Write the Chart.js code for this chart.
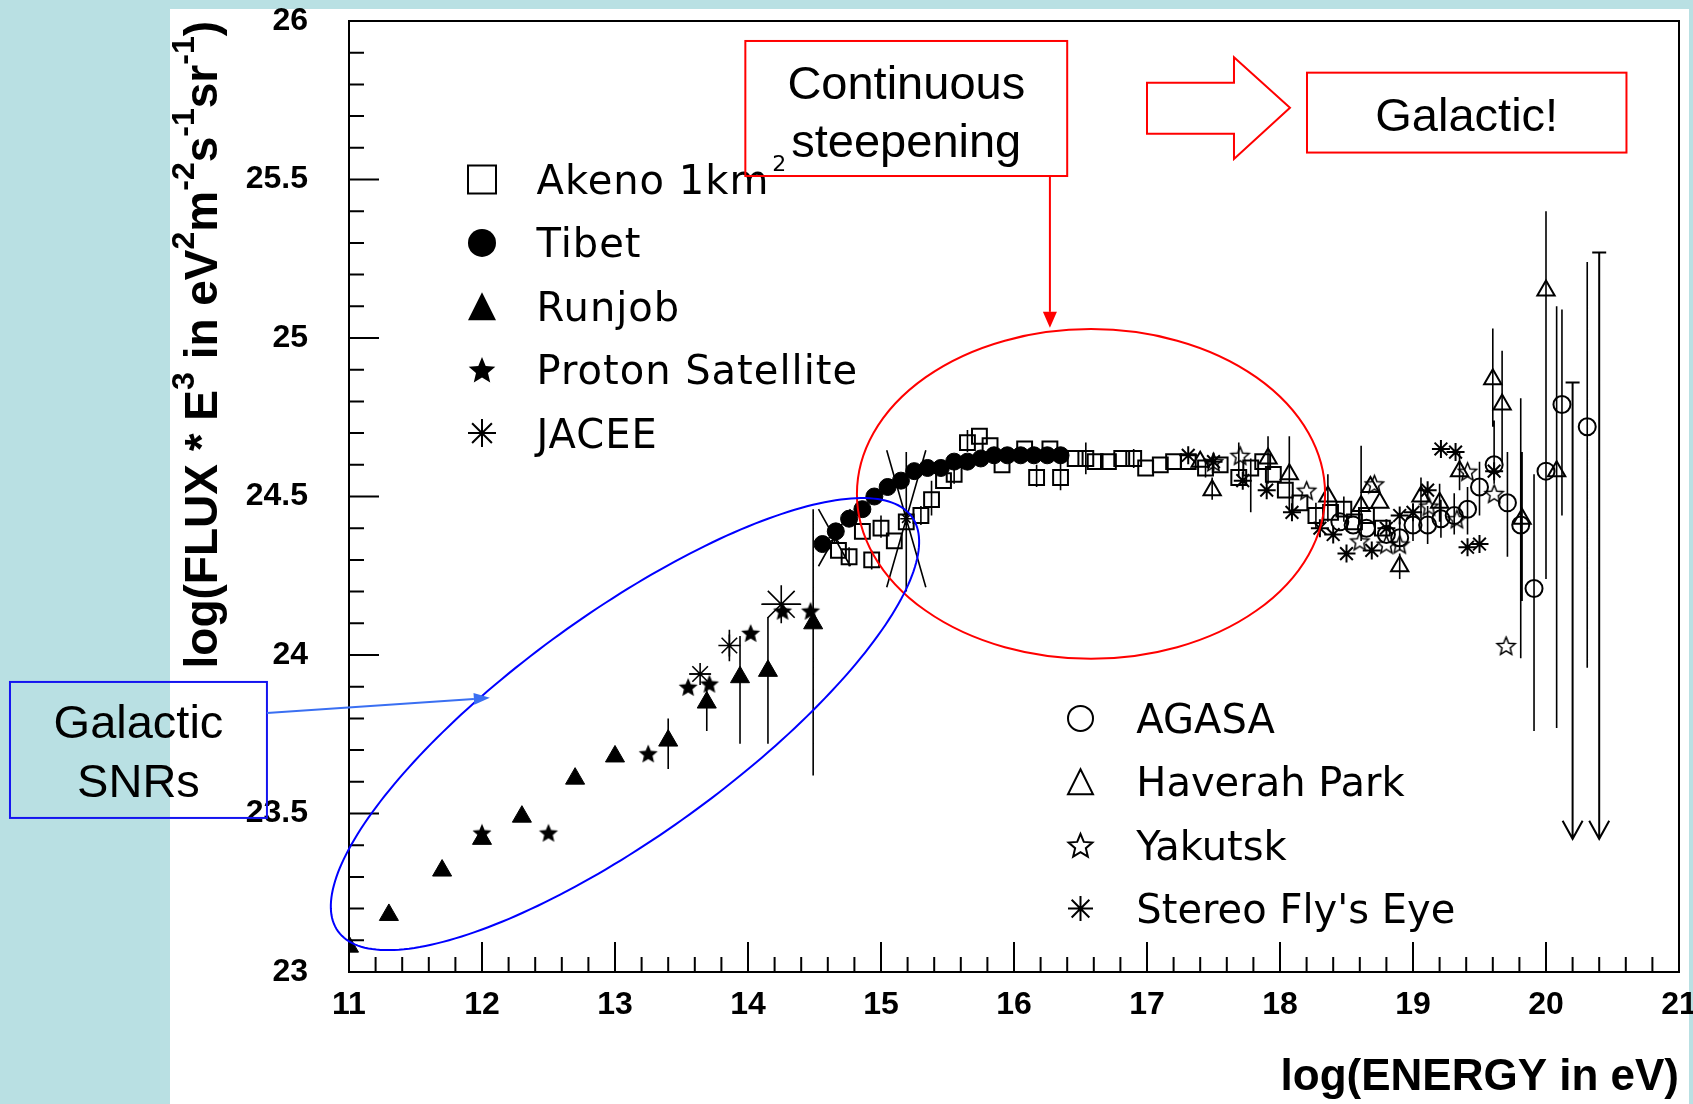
<!DOCTYPE html>
<html>
<head>
<meta charset="utf-8">
<title>Cosmic ray spectrum E^3 weighted</title>
<script src="https://cdn.jsdelivr.net/npm/chart.js@4.4.1/dist/chart.umd.min.js"></script>
<style>
    html, body { margin: 0; padding: 0; background: #b9e0e3; overflow: hidden; }
    #panel { position: absolute; left: 170px; top: 9px; width: 1519px; height: 1095px; background: #ffffff; }
    #wrap { position: absolute; left: 0; top: 0; width: 1693px; height: 1104px; }
</style>
</head>
<body>
<div id="panel"></div>
<div id="wrap"><canvas id="spectrum" width="1693" height="1104"></canvas></div>
<script>
/**
 * Axis ticks
 */
const xTickValues = [11, 12, 13, 14, 15, 16, 17, 18, 19, 20, 21];
const yTickValues = [23, 23.5, 24, 24.5, 25, 25.5, 26];
const xTitle = 'log(ENERGY in eV)';
const yTitleParts = [['log(FLUX * E', 0], ['3', 1], [' in eV', 0], ['2', 1], ['m', 0], ['-2', 1], ['s', 0], ['-1', 1], ['sr', 0], ['-1', 1], [')', 0]];

/**
 * Series values (x = log E, y = log flux*E^3), error bars as [x, low, high]
 */
const runjobX = [11.0, 11.3, 11.7, 12.0, 12.3, 12.7, 13.0, 13.4, 13.69, 13.94, 14.15, 14.49];
const runjobY = [23.08, 23.18, 23.32, 23.42, 23.49, 23.61, 23.68, 23.73, 23.85, 23.93, 23.95, 24.10];
const runjobBars = [[13.40, 23.64, 23.80], [13.69, 23.76, 23.89], [13.94, 23.72, 24.06], [14.15, 23.72, 24.12], [14.49, 23.62, 24.46]];

const protonX = [12.0, 12.5, 13.25, 13.55, 13.71, 14.02, 14.26, 14.47];
const protonY = [23.44, 23.44, 23.69, 23.90, 23.91, 24.07, 24.14, 24.14];

const jaceeX = [13.64, 13.86, 14.25, 14.65, 15.19];
const jaceeY = [23.94, 24.03, 24.16, 24.37, 24.43];
const jaceeSize = [11, 11, 19, 6, 6];
const jaceeBars = [[13.86, 23.98, 24.08], [15.19, 24.20, 24.64]];
const jaceeHBars = [[24.16, 14.10, 14.40], [23.94, 13.56, 13.72]];
const jaceeCross = [[14.65, 24.37, 0.12, 0.09], [15.19, 24.43, 0.147, 0.216]];

const tibetX = [14.56, 14.66, 14.76, 14.86, 14.95, 15.05, 15.15, 15.25, 15.35, 15.45, 15.55, 15.65, 15.75, 15.85, 15.95, 16.05, 16.15, 16.25, 16.35];
const tibetY = [24.35, 24.39, 24.43, 24.46, 24.50, 24.53, 24.55, 24.58, 24.59, 24.59, 24.61, 24.61, 24.62, 24.63, 24.63, 24.63, 24.63, 24.63, 24.63];

const akenoX = [14.68, 14.76, 14.86, 14.93, 15.00, 15.10, 15.19, 15.30, 15.38, 15.47, 15.55, 15.65, 15.74, 15.82, 15.91, 16.08, 16.17, 16.27, 16.35, 16.46, 16.54, 16.61, 16.71, 16.81, 16.90, 16.99, 17.10, 17.20, 17.31, 17.44, 17.55, 17.69, 17.78, 17.87, 17.95, 18.04, 18.15, 18.27, 18.38, 18.48, 18.56, 18.65, 18.77];
const akenoY = [24.33, 24.31, 24.39, 24.30, 24.40, 24.36, 24.42, 24.44, 24.49, 24.55, 24.57, 24.67, 24.69, 24.66, 24.60, 24.65, 24.56, 24.65, 24.56, 24.62, 24.62, 24.61, 24.61, 24.62, 24.62, 24.59, 24.60, 24.61, 24.61, 24.59, 24.60, 24.56, 24.59, 24.61, 24.57, 24.52, 24.48, 24.44, 24.45, 24.46, 24.42, 24.44, 24.40];
const akenoBars = [[14.76, 24.28, 24.34], [14.93, 24.27, 24.33], [15.00, 24.37, 24.44], [15.30, 24.41, 24.47], [15.38, 24.44, 24.55], [15.55, 24.54, 24.60], [15.65, 24.64, 24.71], [16.17, 24.53, 24.60], [16.35, 24.52, 24.62], [16.54, 24.57, 24.67], [16.90, 24.59, 24.65], [17.44, 24.56, 24.62], [17.69, 24.56, 24.67], [17.78, 24.45, 24.62], [18.27, 24.40, 24.48], [18.48, 24.42, 24.50]];

const agasaX = [18.45, 18.55, 18.65, 18.80, 18.90, 19.00, 19.11, 19.21, 19.31, 19.41, 19.50, 19.61, 19.71, 19.81, 19.91, 20.00, 20.12, 20.31];
const agasaY = [24.42, 24.41, 24.40, 24.38, 24.37, 24.41, 24.41, 24.43, 24.44, 24.46, 24.53, 24.60, 24.48, 24.41, 24.21, 24.58, 24.79, 24.72];
const agasaBars = [[18.90, 24.33, 24.42], [19.00, 24.36, 24.47], [19.11, 24.35, 24.47], [19.21, 24.37, 24.49], [19.31, 24.38, 24.51], [19.41, 24.38, 24.53], [19.50, 24.44, 24.61], [19.61, 24.54, 24.74], [19.71, 24.31, 24.64], [19.81, 23.99, 24.81], [19.91, 23.76, 24.57], [20.12, 24.44, 25.09], [20.31, 23.96, 25.24]];
const limitX = [20.20, 20.40];
const limitTop = [24.86, 25.27];
const limitTip = [23.42, 23.42];

const haverahX = [17.40, 17.49, 17.91, 18.07, 18.36, 18.61, 18.68, 18.75, 18.90, 19.06, 19.20, 19.35, 19.60, 19.67, 19.82, 20.00, 20.08];
const haverahY = [24.61, 24.52, 24.62, 24.57, 24.50, 24.47, 24.53, 24.48, 24.28, 24.50, 24.48, 24.58, 24.87, 24.79, 24.43, 25.15, 24.58];
const haverahBars = [[17.49, 24.49, 24.56], [17.91, 24.54, 24.69], [18.07, 24.45, 24.69], [18.36, 24.42, 24.57], [18.61, 24.36, 24.66], [18.90, 24.24, 24.32], [19.06, 24.43, 24.56], [19.20, 24.42, 24.54], [19.35, 24.52, 24.64], [19.60, 24.72, 25.03], [19.67, 24.61, 24.96], [19.82, 24.17, 24.64], [20.00, 24.24, 25.40], [20.08, 23.77, 25.10]];

const yakutskX = [17.50, 17.70, 18.20, 18.60, 18.71, 18.80, 18.90, 19.12, 19.33, 19.41, 19.61, 19.70];
const yakutskY = [24.61, 24.63, 24.52, 24.36, 24.54, 24.35, 24.35, 24.47, 24.43, 24.58, 24.51, 24.03];

const flyX = [17.31, 17.50, 17.72, 17.90, 18.09, 18.30, 18.40, 18.50, 18.69, 18.80, 18.90, 19.00, 19.11, 19.21, 19.32, 19.41, 19.50, 19.61];
const flyY = [24.63, 24.61, 24.55, 24.52, 24.45, 24.40, 24.38, 24.32, 24.33, 24.40, 24.44, 24.45, 24.52, 24.65, 24.64, 24.34, 24.35, 24.58];

/**
 * Legends: [label, marker, superscript]
 */
const legendUpper = [['Akeno 1km', 'openSquare', '2'], ['Tibet', 'dot'], ['Runjob', 'triangle'], ['Proton Satellite', 'star'], ['JACEE', 'asterisk']];
const legendUpperRows = [25.5, 25.3, 25.1, 24.9, 24.7];
const legendLower = [['AGASA', 'openCircle'], ['Haverah Park', 'openTriangle'], ["Yakutsk", 'openStar'], ["Stereo Fly's Eye", 'asterisk']];
const legendLowerRows = [23.8, 23.6, 23.4, 23.2];

const FONT = '"Liberation Sans", Arial, Helvetica, sans-serif';
const LEGEND_FONT = '"DejaVu Sans", "Liberation Sans", sans-serif';

function pts(xs, ys) {
    return xs.map((x, i) => ({ x: x, y: ys[i] }));
}

function starPath(g, cx, cy, R, inner) {
    g.beginPath();
    for (let k = 0; k < 10; k++) {
        const r = k % 2 ? R * inner : R;
        const a = -Math.PI / 2 + k * Math.PI / 5;
        const px = cx + r * Math.cos(a);
        const py = cy + r * Math.sin(a);
        if (k === 0) g.moveTo(px, py); else g.lineTo(px, py);
    }
    g.closePath();
}

function starImage(size, filled) {
    const c = document.createElement('canvas');
    c.width = c.height = size + 4;
    const g = c.getContext('2d');
    starPath(g, c.width / 2, c.height / 2 + size * 0.06, size / 2, 0.45);
    if (filled) {
        g.fillStyle = '#000';
        g.fill();
    } else {
        g.strokeStyle = '#000';
        g.lineWidth = 1.5;
        g.stroke();
    }
    return c;
}

function legendMarker(ctx, kind, cx, cy, s) {
    const r = s / 2;
    ctx.save();
    ctx.fillStyle = '#000';
    ctx.strokeStyle = '#000';
    ctx.lineWidth = 2;
    ctx.beginPath();
    if (kind === 'openSquare') {
        ctx.rect(cx - r, cy - r, s, s);
        ctx.stroke();
    } else if (kind === 'dot' || kind === 'openCircle') {
        ctx.arc(cx, cy, r, 0, Math.PI * 2);
        if (kind === 'dot') ctx.fill(); else ctx.stroke();
    } else if (kind === 'triangle' || kind === 'openTriangle') {
        ctx.moveTo(cx, cy - r);
        ctx.lineTo(cx + r, cy + r);
        ctx.lineTo(cx - r, cy + r);
        ctx.closePath();
        if (kind === 'triangle') ctx.fill(); else ctx.stroke();
    } else if (kind === 'star' || kind === 'openStar') {
        starPath(ctx, cx, cy + r * 0.1, r, 0.45);
        if (kind === 'star') ctx.fill(); else ctx.stroke();
    } else if (kind === 'asterisk') {
        const d = r * Math.SQRT1_2;
        ctx.moveTo(cx - r, cy); ctx.lineTo(cx + r, cy);
        ctx.moveTo(cx, cy - r); ctx.lineTo(cx, cy + r);
        ctx.moveTo(cx - d, cy - d); ctx.lineTo(cx + d, cy + d);
        ctx.moveTo(cx - d, cy + d); ctx.lineTo(cx + d, cy - d);
        ctx.stroke();
    }
    ctx.restore();
}

function arrow(ctx, x0, y0, x1, y1, color, len, half) {
    const ang = Math.atan2(y1 - y0, x1 - x0);
    const bx = x1 - Math.cos(ang) * len;
    const by = y1 - Math.sin(ang) * len;
    ctx.strokeStyle = color;
    ctx.fillStyle = color;
    ctx.beginPath();
    ctx.moveTo(x0, y0);
    ctx.lineTo(bx, by);
    ctx.stroke();
    ctx.beginPath();
    ctx.moveTo(x1, y1);
    ctx.lineTo(bx + Math.sin(ang) * half, by - Math.cos(ang) * half);
    ctx.lineTo(bx - Math.sin(ang) * half, by + Math.cos(ang) * half);
    ctx.closePath();
    ctx.fill();
}

/**
 * Error bars, upper limits (drawn under the markers)
 */
const errorBars = {
    id: 'errorBars',
    beforeDatasetsDraw(chart) {
        const { ctx, scales: { x, y } } = chart;
        ctx.save();
        ctx.strokeStyle = '#000';
        ctx.lineWidth = 1.6;
        ctx.beginPath();
        chart.data.datasets.forEach(ds => {
            (ds.errBars || []).forEach(b => {
                const px = x.getPixelForValue(b[0]);
                ctx.moveTo(px, y.getPixelForValue(b[1]));
                ctx.lineTo(px, y.getPixelForValue(b[2]));
            });
            (ds.errHBars || []).forEach(b => {
                const py = y.getPixelForValue(b[0]);
                ctx.moveTo(x.getPixelForValue(b[1]), py);
                ctx.lineTo(x.getPixelForValue(b[2]), py);
            });
            (ds.errCross || []).forEach(c => {
                ctx.moveTo(x.getPixelForValue(c[0] - c[2]), y.getPixelForValue(c[1] + c[3]));
                ctx.lineTo(x.getPixelForValue(c[0] + c[2]), y.getPixelForValue(c[1] - c[3]));
                ctx.moveTo(x.getPixelForValue(c[0] - c[2]), y.getPixelForValue(c[1] - c[3]));
                ctx.lineTo(x.getPixelForValue(c[0] + c[2]), y.getPixelForValue(c[1] + c[3]));
            });
        });
        ctx.stroke();

        // upper limits
        ctx.lineWidth = 2;
        ctx.beginPath();
        limitX.forEach((v, i) => {
            const px = x.getPixelForValue(v);
            const top = y.getPixelForValue(limitTop[i]);
            const tip = y.getPixelForValue(limitTip[i]);
            ctx.moveTo(px - 7, top); ctx.lineTo(px + 7, top);
            ctx.moveTo(px, top); ctx.lineTo(px, tip);
            ctx.moveTo(px - 10, tip - 18); ctx.lineTo(px, tip); ctx.lineTo(px + 10, tip - 18);
        });
        ctx.stroke();
        ctx.restore();
    }
};

/**
 * Frame with inward major/minor ticks
 */
const frameTicks = {
    id: 'frameTicks',
    afterDatasetsDraw(chart) {
        const { ctx, chartArea: a, scales: { x, y } } = chart;
        ctx.save();
        ctx.strokeStyle = '#000';
        ctx.lineWidth = 2;
        ctx.strokeRect(a.left, a.top, a.right - a.left, a.bottom - a.top);
        ctx.beginPath();
        for (let k = 0; k <= 50; k++) {
            const px = x.getPixelForValue(11 + k * 0.2);
            ctx.moveTo(px, a.bottom);
            ctx.lineTo(px, a.bottom - (k % 5 === 0 ? 30 : 15));
        }
        for (let k = 0; k <= 30; k++) {
            const py = y.getPixelForValue(23 + k * 0.1);
            ctx.moveTo(a.left, py);
            ctx.lineTo(a.left + (k % 5 === 0 ? 30 : 15), py);
        }
        ctx.stroke();
        ctx.restore();
    }
};

/**
 * Rotated y title with superscripts
 */
const yTitle = {
    id: 'yTitle',
    afterDraw(chart) {
        const { ctx } = chart;
        const ys = chart.scales.y;
        const main = 'bold 46px ' + FONT;
        const sup = 'bold 32px ' + FONT;
        let w = 0;
        yTitleParts.forEach(p => { ctx.font = p[1] ? sup : main; w += ctx.measureText(p[0]).width; });
        ctx.save();
        ctx.fillStyle = '#000';
        ctx.textBaseline = 'alphabetic';
        ctx.translate(ys.left + 47, ys.top + w);
        ctx.rotate(-Math.PI / 2);
        let pos = 0;
        yTitleParts.forEach(p => {
            ctx.font = p[1] ? sup : main;
            ctx.fillText(p[0], pos, p[1] ? -23 : 0);
            pos += ctx.measureText(p[0]).width;
        });
        ctx.restore();
    }
};

/**
 * Legends placed in data coordinates
 */
const legends = {
    id: 'legends',
    afterDraw(chart) {
        const { ctx, scales: { x, y } } = chart;
        const draw = (items, rows, mx, tx, size, spacing) => {
            items.forEach((it, i) => {
                const py = y.getPixelForValue(rows[i]);
                legendMarker(ctx, it[1], x.getPixelForValue(mx), py, size);
                ctx.save();
                ctx.fillStyle = '#000';
                ctx.textBaseline = 'alphabetic';
                ctx.font = '40px ' + LEGEND_FONT;
                ctx.letterSpacing = spacing;
                const lx = x.getPixelForValue(tx);
                ctx.fillText(it[0], lx, py + 14.5);
                if (it[2]) {
                    const w = ctx.measureText(it[0]).width;
                    ctx.font = '22px ' + LEGEND_FONT;
                    ctx.fillText(it[2], lx + w + 3, py - 9);
                }
                ctx.restore();
            });
        };
        draw(legendUpper, legendUpperRows, 12.0, 12.41, 28, '1px');
        draw(legendLower, legendLowerRows, 16.5, 16.92, 25, '0px');
    }
};

/**
 * Slide overlays: ellipses, boxes, arrows
 */
const redEllipse = { cx: 16.579, cy: 24.508, rx: 1.76, ry: 0.52 };
const blueEllipse = { cx: 13.075, cy: 23.782, u: [2.157, 0.654], v: [0.489, -0.284] };
const noteBoxes = [
    { x0: 13.98, x1: 16.40, y0: 25.511, y1: 25.937, color: '#ff0000', lines: ['Continuous', 'steepening'], base: [25.754, 25.572] },
    { x0: 18.203, x1: 20.605, y0: 25.585, y1: 25.837, color: '#ff0000', lines: ['Galactic!'], base: [25.654] },
    { x0: 8.451, x1: 10.383, y0: 23.486, y1: 23.915, color: '#1414f0', lines: ['Galactic', 'SNRs'], base: [23.737, 23.553] }
];
const hollowArrow = [[17.00, 25.805], [17.654, 25.805], [17.654, 25.886], [18.075, 25.726], [17.654, 25.565], [17.654, 25.644], [17.00, 25.644]];

const overlays = {
    id: 'overlays',
    afterDraw(chart) {
        const { ctx, scales: { x, y } } = chart;
        const px = v => x.getPixelForValue(v);
        const py = v => y.getPixelForValue(v);
        ctx.save();
        ctx.lineWidth = 2;

        ctx.strokeStyle = '#ff0000';
        ctx.beginPath();
        ctx.ellipse(px(redEllipse.cx), py(redEllipse.cy),
            px(redEllipse.cx + redEllipse.rx) - px(redEllipse.cx),
            py(redEllipse.cy - redEllipse.ry) - py(redEllipse.cy), 0, 0, Math.PI * 2);
        ctx.stroke();

        ctx.strokeStyle = '#0000ff';
        ctx.beginPath();
        for (let k = 0; k <= 240; k++) {
            const t = k / 240 * Math.PI * 2;
            const ex = blueEllipse.cx + blueEllipse.u[0] * Math.cos(t) + blueEllipse.v[0] * Math.sin(t);
            const ey = blueEllipse.cy + blueEllipse.u[1] * Math.cos(t) + blueEllipse.v[1] * Math.sin(t);
            if (k === 0) ctx.moveTo(px(ex), py(ey)); else ctx.lineTo(px(ex), py(ey));
        }
        ctx.closePath();
        ctx.stroke();

        noteBoxes.forEach(b => {
            ctx.strokeStyle = b.color;
            ctx.strokeRect(px(b.x0), py(b.y1), px(b.x1) - px(b.x0), py(b.y0) - py(b.y1));
            ctx.fillStyle = '#000';
            ctx.font = '47px ' + FONT;
            ctx.textAlign = 'center';
            ctx.textBaseline = 'alphabetic';
            const cx = (px(b.x0) + px(b.x1)) / 2;
            b.lines.forEach((t, i) => ctx.fillText(t, cx, py(b.base[i])));
        });

        ctx.strokeStyle = '#ff0000';
        ctx.beginPath();
        hollowArrow.forEach((p, i) => { if (i === 0) ctx.moveTo(px(p[0]), py(p[1])); else ctx.lineTo(px(p[0]), py(p[1])); });
        ctx.closePath();
        ctx.stroke();

        arrow(ctx, px(16.27), py(25.511), px(16.27), py(25.032), '#ff0000', 16, 7);
        arrow(ctx, px(10.383), py(23.817), px(12.059), py(23.865), '#3a6ff2', 16, 6);
        ctx.restore();
    }
};

const protonStar = starImage(20, true);
const yakutskStar = starImage(19, false);

const black = '#000000';
const none = 'rgba(0,0,0,0)';

new Chart(document.getElementById('spectrum'), {
    type: 'scatter',
    data: {
        datasets: [
            { label: 'Runjob', data: pts(runjobX, runjobY), pointStyle: 'triangle', pointRadius: 11, backgroundColor: black, borderColor: black, borderWidth: 1, errBars: runjobBars },
            { label: 'Proton Satellite', data: pts(protonX, protonY), pointStyle: protonStar, pointRadius: 10, backgroundColor: black, borderColor: black },
            { label: 'JACEE', data: pts(jaceeX, jaceeY), pointStyle: 'star', pointRadius: jaceeSize, backgroundColor: none, borderColor: black, borderWidth: 1.6, errBars: jaceeBars, errHBars: jaceeHBars, errCross: jaceeCross },
            { label: 'Tibet', data: pts(tibetX, tibetY), pointStyle: 'circle', pointRadius: 8.5, backgroundColor: black, borderColor: black, borderWidth: 1 },
            { label: 'Akeno 1km²', data: pts(akenoX, akenoY), pointStyle: 'rect', pointRadius: 10.5, backgroundColor: none, borderColor: black, borderWidth: 2, errBars: akenoBars },
            { label: 'AGASA', data: pts(agasaX, agasaY), pointStyle: 'circle', pointRadius: 8.5, backgroundColor: none, borderColor: black, borderWidth: 2, errBars: agasaBars },
            { label: 'Haverah Park', data: pts(haverahX, haverahY), pointStyle: 'triangle', pointRadius: 10, backgroundColor: none, borderColor: black, borderWidth: 2, errBars: haverahBars },
            { label: 'Yakutsk', data: pts(yakutskX, yakutskY), pointStyle: yakutskStar, pointRadius: 9, backgroundColor: none, borderColor: black },
            { label: "Stereo Fly's Eye", data: pts(flyX, flyY), pointStyle: 'star', pointRadius: 9, backgroundColor: none, borderColor: black, borderWidth: 2 }
        ]
    },
    options: {
        responsive: false,
        animation: false,
        devicePixelRatio: 1,
        events: [],
        layout: { autoPadding: false, padding: { left: 170, right: 14, top: 21, bottom: 0 } },
        plugins: { legend: { display: false }, tooltip: { enabled: false } },
        scales: {
            x: {
                type: 'linear',
                position: 'bottom',
                min: 11,
                max: 21,
                grid: { display: false },
                border: { display: false },
                afterBuildTicks: s => { s.ticks = xTickValues.map(v => ({ value: v })); },
                afterFit: s => { s.height = 132; s.paddingLeft = 0; s.paddingRight = 0; },
                ticks: { autoSkip: false, maxRotation: 0, padding: 6, color: '#000', font: { family: FONT, size: 32, weight: 'bold' }, callback: v => String(v) },
                title: { display: true, text: xTitle, align: 'end', color: '#000', font: { family: FONT, size: 44, weight: 'bold' }, padding: { top: 0, bottom: 0 } }
            },
            y: {
                type: 'linear',
                position: 'left',
                min: 23,
                max: 26,
                grid: { display: false },
                border: { display: false },
                afterBuildTicks: s => { s.ticks = yTickValues.map(v => ({ value: v })); },
                afterFit: s => { s.width = 179; s.paddingTop = 0; s.paddingBottom = 0; },
                ticks: { padding: 33, color: '#000', font: { family: FONT, size: 32, weight: 'bold' }, callback: v => String(v) }
            }
        }
    },
    plugins: [errorBars, frameTicks, yTitle, legends, overlays]
});
</script>
</body>
</html>
